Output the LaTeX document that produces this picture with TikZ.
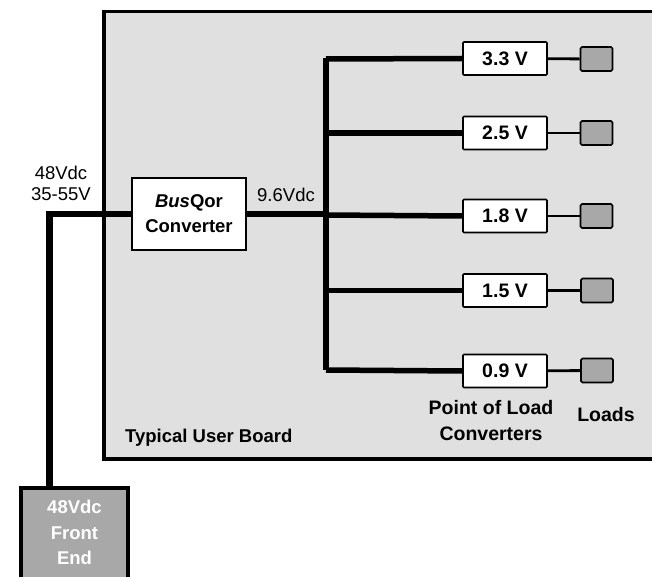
\documentclass[tikz,border=0pt]{standalone}
\usepackage{fontspec}
\setmainfont{Liberation Sans}
\usetikzlibrary{positioning}

\begin{document}
\begin{tikzpicture}[
    		x=1pt, y=-1pt,
    		every node/.style={anchor=center, align=center, inner sep=0pt, font=\fontsize{18.5}{21}\selectfont},
    		board/.style={draw, line width=3.5pt, fill={rgb,255:red,224;green,224;blue,224}},
    		conv/.style={draw, line width=1.6pt, fill=white, rounded corners=1pt, minimum width=84pt, minimum height=33pt, font=\fontsize{19.5}{21}\selectfont\bfseries},
    		load/.style={draw, line width=1.6pt, fill={rgb,255:red,168;green,168;blue,168}, rounded corners=1.5pt, minimum width=32pt, minimum height=24pt},
    		bus/.style={line width=6.5pt, line join=miter},
    		tap/.style={line width=5.5pt},
    		feed/.style={line width=2.8pt},
    		caption/.style={font=\fontsize{19.5}{26}\selectfont\bfseries}
    		]
    		
    		\useasboundingbox (0,0) rectangle (652,577);
    		\clip (0,0) rectangle (652,577);
    		
    		% board
    		\draw[board] (104,11.5) rectangle (670,459);
    		\node[font=\fontsize{18.5}{21}\selectfont\bfseries, anchor=west] (boardname) at (125,438) {Typical User Board};
    		
    		% converters
    		\node[draw, line width=2.6pt, fill=white, minimum width=114pt, minimum height=72pt, font=\fontsize{18.5}{25}\selectfont\bfseries] (busqor) at (189,214) {\textit{Bus}Qor\\Converter};
    		\node[fill={rgb,255:red,168;green,168;blue,168}, text=white, anchor=north, minimum width=107pt, minimum height=89pt, font=\fontsize{18.5}{25.5}\selectfont\bfseries] (front) at (74.5,488) {48Vdc\\Front\\End};
    		\draw[line width=4pt] ([yshift=-10pt]front.south west) -- (front.north west) -- (front.north east) -- ([yshift=-10pt]front.south east);
    		
    		\node[conv] (v33) at (505,58.5) {3.3 V};
    		\node[conv] (v25) at (505,133) {2.5 V};
    		\node[conv] (v18) at (505,216) {1.8 V};
    		\node[conv] (v15) at (505,290.5) {1.5 V};
    		\node[conv] (v09) at (505,371) {0.9 V};
    		
    		\node[load] (l33) at (596.5,59) {};
    		\node[load] (l25) at (596.5,133) {};
    		\node[load] (l18) at (596.5,216) {};
    		\node[load] (l15) at (597,290.5) {};
    		\node[load] (l09) at (597,370.5) {};
    		
    		% labels
    		\node (vin) at (61,183) {48Vdc\\35-55V};
    		\node (vbus) at (286,195) {9.6Vdc};
    		\node[caption] (pol) at (491,421) {Point of Load\\Converters};
    		\node[caption] (loads) at (606,415) {Loads};
    		
    		% wiring
    		\coordinate (inbend) at (49.5,214);
    		\coordinate (bustop) at (326,59);
    		\coordinate (busbot) at (326,370);
    		
    		\draw[bus] (front.north -| inbend) -- (inbend) -- (busqor.west);
    		\draw[bus] (busqor.east) -- (busqor.east -| bustop);
    		\draw[bus] (v33.west -| bustop) -- (busbot);
    		\draw[tap] (bustop) -- (v33.west);
    		\draw[tap] (v25.west -| bustop) -- (v25.west);
    		\draw[tap] (bustop |- 0,215) -- (v18.west);
    		\draw[tap] (v15.west -| bustop) -- (v15.west);
    		\draw[tap] (busbot) -- (v09.west);
    		
    		\draw[feed] (v33) -- (l33);
    		\draw[feed] (v25) -- (l25);
    		\draw[feed] (v18) -- (l18);
    		\draw[feed] (v15) -- (l15);
    		\draw[feed] (v09) -- (l09);
    		
    		\end{tikzpicture}
\end{document}
